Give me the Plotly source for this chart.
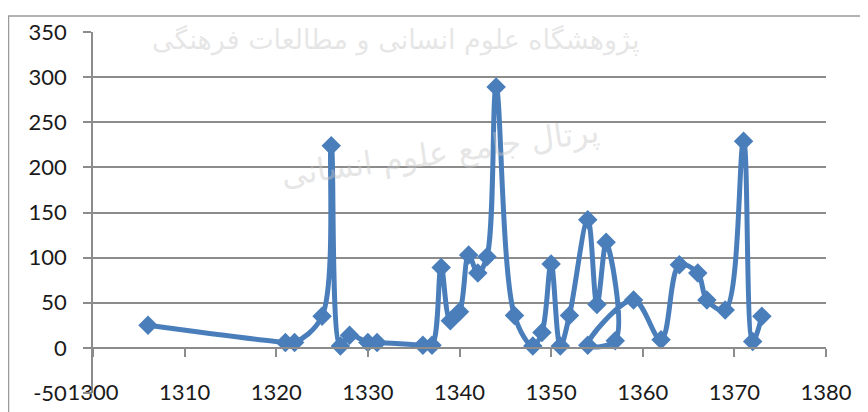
import plotly.graph_objects as go

years = [1306, 1321, 1322, 1325, 1326, 1327, 1328, 1330, 1331, 1336, 1337, 1338, 1339,
         1340, 1341, 1342, 1343, 1344, 1346, 1348, 1349, 1350, 1351, 1352, 1354, 1355,
         1356, 1357, 1354, 1359, 1362, 1364, 1366, 1367, 1369, 1371, 1372, 1373]
values = [25, 6, 6, 35, 224, 2, 14, 6, 6, 3, 3, 89, 30,
          40, 103, 83, 101, 289, 36, 2, 17, 93, 2, 36, 142, 48,
          117, 8, 3, 53, 9, 92, 83, 53, 42, 229, 7, 35]
x_ticks = [1300, 1310, 1320, 1330, 1340, 1350, 1360, 1370, 1380]
y_ticks = [-50, 0, 50, 100, 150, 200, 250, 300, 350]
y_tick_labels = ["-50", "0", "50", "100", "150", "200", "250", "300", "350"]
watermark_1 = "پژوهشگاه علوم انسانی و مطالعات فرهنگی"
watermark_2 = "پرتال جامع علوم انسانی"

BLUE = "#4a7ebb"
GRID = "#8c8c8c"
FONT = "Lato"

fig = go.Figure()
fig.add_trace(go.Scatter(
    x=years, y=values, mode="lines+markers",
    line=dict(color=BLUE, width=5, shape="spline", smoothing=1),
    marker=dict(symbol="diamond", size=15, color=BLUE),
    showlegend=False, cliponaxis=False,
))
# invisible trace to drive the y=0 axis
fig.add_trace(go.Scatter(x=[x_ticks[0]], y=[0], xaxis="x2", mode="markers",
                         marker=dict(opacity=0), showlegend=False, hoverinfo="skip"))

# page body has an 8px offset; plot area should land at x 93..826, y 32..393
fig.update_layout(
    width=868, height=412,
    margin=dict(l=85, r=50, t=24, b=27),
    paper_bgcolor="white", plot_bgcolor="white",
    font=dict(family=FONT, size=22, color="#1a1a1a"),
    xaxis=dict(range=[1300, 1380], tickvals=x_ticks, showgrid=False, zeroline=False,
               showline=False, ticks="", ticklabelstandoff=-16, automargin=False),
    xaxis2=dict(range=[1300, 1380], tickvals=x_ticks, overlaying="x", anchor="free",
                position=50 / 400, showline=True, linecolor=GRID, linewidth=1.5,
                ticks="outside", ticklen=8, tickcolor=GRID, tickwidth=1.5,
                showticklabels=False, showgrid=False, zeroline=False, automargin=False),
    yaxis=dict(range=[-50, 350], tickvals=y_ticks, ticktext=y_tick_labels,
               showgrid=True, gridcolor=GRID,
               gridwidth=1.5, zeroline=False, showline=True, linecolor=GRID,
               linewidth=1.5, ticks="outside", ticklen=8, tickcolor=GRID, tickwidth=1.5,
               ticklabelstandoff=12, automargin=False),
    shapes=[dict(type="rect", xref="paper", yref="paper",
                 x0=(8.5 - 93) / 733, x1=(880 - 93) / 733,
                 y0=(393 - 430) / 361, y1=(393 - 16) / 361,
                 line=dict(color="#9a9a9a", width=1.5), layer="below")],
    annotations=[
        dict(text=watermark_1, xref="paper", yref="paper", x=(395 - 93) / 733,
             y=(393 - 22) / 361, showarrow=False,
             font=dict(family="DejaVu Sans", size=27, color="rgba(200,200,200,0.45)")),
        dict(text=watermark_2, xref="paper", yref="paper", x=(440 - 93) / 733,
             y=(393 - 110) / 361, showarrow=False, textangle=-8,
             font=dict(family="DejaVu Sans", size=32, color="rgba(200,200,200,0.45)")),
    ],
)
fig.write_html("out.html")
